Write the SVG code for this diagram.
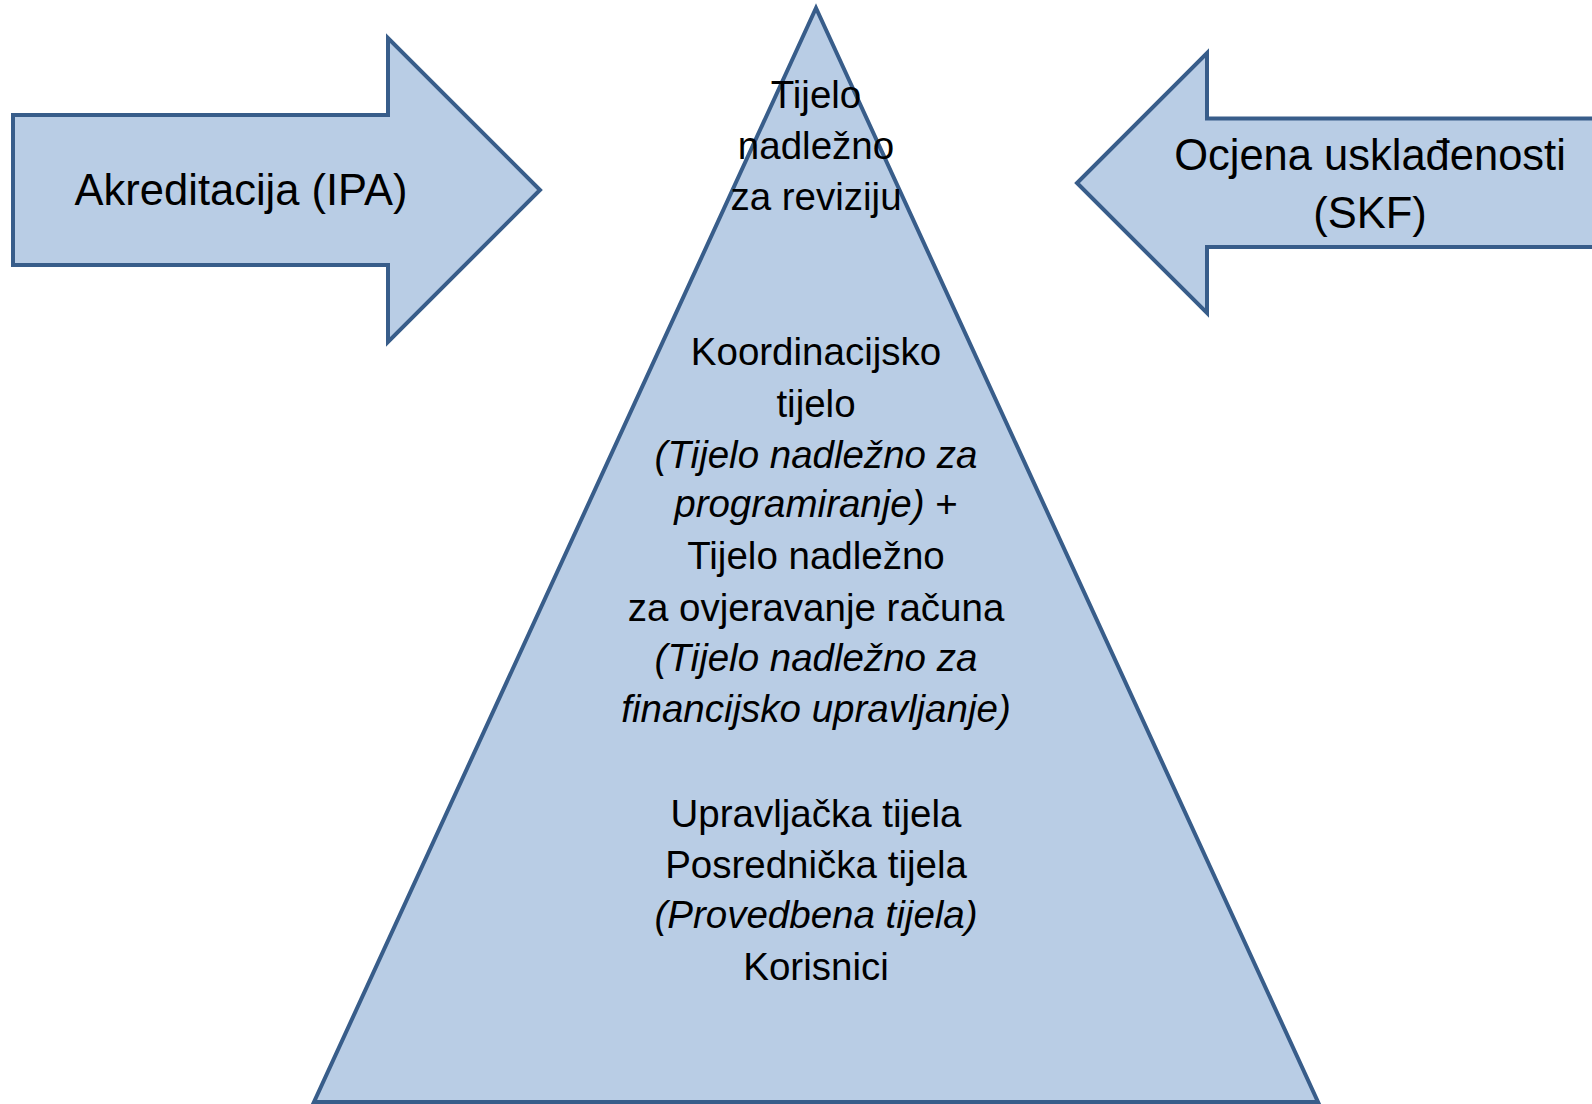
<svg xmlns="http://www.w3.org/2000/svg" width="1592" height="1104" viewBox="0 0 1592 1104">
<style>
.shape{fill:#B9CDE5;stroke:#385D8A;stroke-width:4;stroke-linejoin:miter}
text{font-family:"Liberation Sans",Arial,sans-serif;fill:#000;text-anchor:middle}
.big{font-size:43.5px}
.tri{font-size:38.5px}
.it{font-style:italic}
</style>
<rect width="1592" height="1104" fill="#fff"/>
<g id="pyramid">
<polygon class="shape" points="816,8 1318,1102 314,1102"/>
<text class="tri" x="816" y="108">Tijelo</text>
<text class="tri" x="816" y="158.5">nadležno</text>
<text class="tri" x="816" y="210">za reviziju</text>
<text class="tri" x="816" y="365">Koordinacijsko</text>
<text class="tri" x="816" y="416.5">tijelo</text>
<text class="tri it" x="816" y="467.5">(Tijelo nadležno za</text>
<text class="tri" x="816" y="517"><tspan class="it">programiranje)</tspan> +</text>
<text class="tri" x="816" y="569">Tijelo nadležno</text>
<text class="tri" x="816" y="620.5">za ovjeravanje računa</text>
<text class="tri it" x="816" y="671">(Tijelo nadležno za</text>
<text class="tri it" x="816" y="721.5">financijsko upravljanje)</text>
<text class="tri" x="816" y="826.5">Upravljačka tijela</text>
<text class="tri" x="816" y="878">Posrednička tijela</text>
<text class="tri it" x="816" y="928">(Provedbena tijela)</text>
<text class="tri" x="816" y="979.5">Korisnici</text>
</g>
<g id="akreditacija">
<polygon class="shape" points="13,115 388,115 388,38 540,190 388,342 388,265 13,265"/>
<text class="big" x="241" y="205">Akreditacija (IPA)</text>
</g>
<g id="ocjena">
<polygon class="shape" points="1600,118.5 1207,118.5 1207,53 1077,183 1207,313 1207,247 1600,247"/>
<text class="big" x="1370" y="170">Ocjena usklađenosti</text>
<text class="big" x="1370" y="228">(SKF)</text>
</g>
<g id="connectors"></g>
</svg>
